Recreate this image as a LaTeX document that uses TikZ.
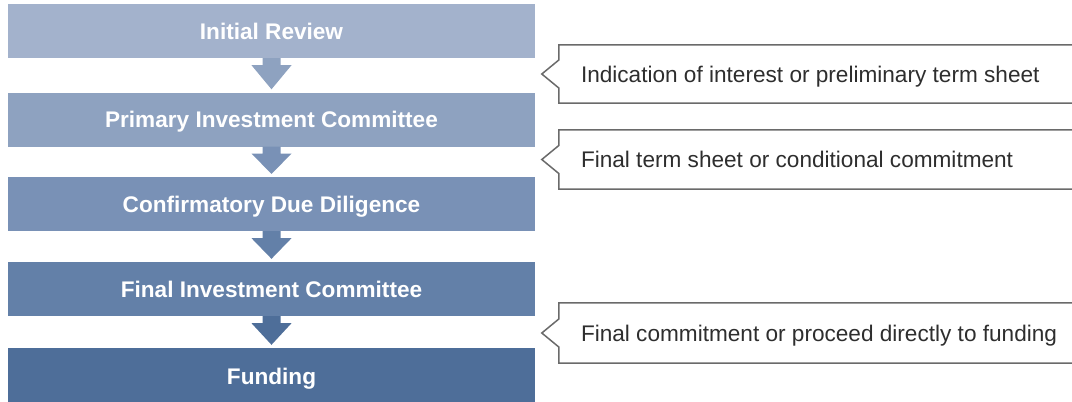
\documentclass[tikz,border=0pt]{standalone}
\usepackage{fontspec}
\setmainfont{Liberation Sans}
\usetikzlibrary{calc}
\definecolor{cA}{HTML}{A3B2CC}
\definecolor{cB}{HTML}{8EA2C0}
\definecolor{cC}{HTML}{7991B6}
\definecolor{cD}{HTML}{6380A8}
\definecolor{cE}{HTML}{4E6E99}
\definecolor{lineg}{HTML}{6A6A6A}
\definecolor{txtg}{HTML}{2E2E2E}
\tikzset{
  bar/.style={rectangle, minimum width=527pt, minimum height=54pt, inner sep=0pt,
    text=white, text depth=0pt, font=\fontsize{22.6}{27}\selectfont\bfseries},
  callbox/.style={rectangle, minimum width=521pt, inner sep=0pt},
  calltext/.style={anchor=west, inner sep=0pt, text depth=0pt, text=txtg, font=\fontsize{22.6}{27}\selectfont},
  callline/.style={draw=lineg, line width=1.5pt, line join=miter},
}
\newcommand{\flowarrow}[3]{%
  \fill[#3] ($(#1.south)+(-9,0)$) -- ($(#1.south)+(-9,7)$) -- ($(#1.south)+(-20,7)$)
    -- ($(#2.north)+(0,-3)$) -- ($(#1.south)+(20,7)$) -- ($(#1.south)+(9,7)$)
    -- ($(#1.south)+(9,0)$) -- cycle;}
\newcommand{\calloutshape}[1]{%
  \draw[callline] ($(#1.north east)+(20,0)$) -- (#1.north west) -- ($(#1.west)+(0,-14)$)
    -- ($(#1.west)+(-17,0)$) -- ($(#1.west)+(0,14)$) -- (#1.south west) -- ($(#1.south east)+(20,0)$);}
\begin{document}
\begin{tikzpicture}[x=1pt,y=-1pt]
\useasboundingbox[fill=white] (0,0) rectangle (1072,402);
\begin{scope}
\clip (0,0) rectangle (1072,402);
\node[bar, fill=cA] (b1) at (271.5,31) {Initial Review};
\node[bar, fill=cB] (b2) at (271.5,119.5) {Primary Investment Committee};
\node[bar, fill=cC] (b3) at (271.5,204) {Confirmatory Due Diligence};
\node[bar, fill=cD] (b4) at (271.5,289) {Final Investment Committee};
\node[bar, fill=cE, minimum height=56pt] (b5) at (271.5,376) {Funding};
\flowarrow{b1}{b2}{cB}
\flowarrow{b2}{b3}{cC}
\flowarrow{b3}{b4}{cD}
\flowarrow{b4}{b5}{cE}
\node[callbox, minimum height=58pt] (c1) at (819.5,74) {};
\node[callbox, minimum height=59pt] (c2) at (819.5,159.5) {};
\node[callbox, minimum height=60pt] (c3) at (819.5,333) {};
\calloutshape{c1}
\calloutshape{c2}
\calloutshape{c3}
\node[calltext] (t1) at ($(c1.west)+(22,0)$) {Indication of interest or preliminary term sheet};
\node[calltext] (t2) at ($(c2.west)+(22,0)$) {Final term sheet or conditional commitment};
\node[calltext] (t3) at ($(c3.west)+(22,0)$) {Final commitment or proceed directly to funding};
\end{scope}
\end{tikzpicture}
\end{document}
